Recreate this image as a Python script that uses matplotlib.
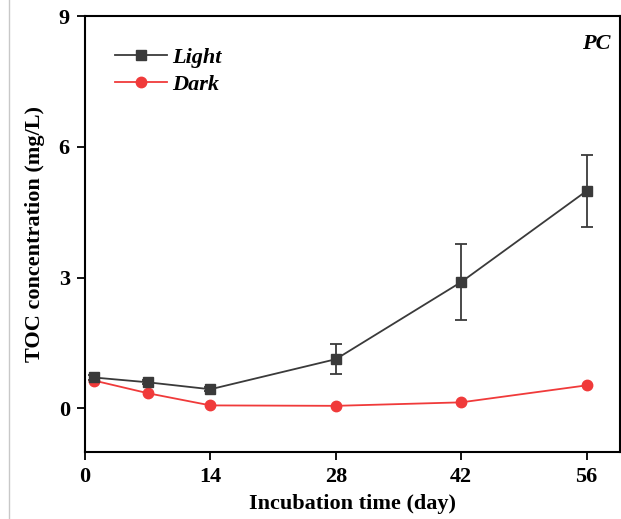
import matplotlib
matplotlib.use("Agg")
import matplotlib.pyplot as plt
from matplotlib.lines import Line2D

days_light = [1, 7, 14, 28, 42, 56]
toc_light = [0.71, 0.60, 0.44, 1.13, 2.90, 4.99]
err_light = [0.05, 0.05, 0.05, 0.35, 0.87, 0.82]

days_dark = [1, 7, 14, 28, 42, 56]
toc_dark = [0.64, 0.35, 0.07, 0.06, 0.14, 0.53]

xticks = [0, 14, 28, 42, 56]
yticks = [0, 3, 6, 9]

plt.rcParams['font.family'] = ['Liberation Serif', 'DejaVu Serif']
plt.rcParams['font.weight'] = 'bold'

c_light = '#3a3a3a'
c_dark = '#f03a3a'

fig = plt.figure(figsize=(6.21, 5.19), dpi=100)
ax = fig.add_axes([0.137, 0.129, 0.861, 0.840])

ax.errorbar(days_light, toc_light, yerr=err_light, color=c_light, lw=1.3,
            marker='s', ms=6.5, capsize=4, elinewidth=1.3, capthick=1.3)
ax.plot(days_dark, toc_dark, color=c_dark, lw=1.3, marker='o', ms=7.5)

ax.set_xlim(0, 59.7)
ax.set_ylim(-1, 9)
ax.set_xticks(xticks)
ax.set_yticks(yticks)
ax.tick_params(direction='out', length=6, width=1.3, labelsize=16, pad=5)
for s in ax.spines.values():
    s.set_linewidth(1.5)

ax.set_xlabel('Incubation time (day)', fontsize=16, fontweight='bold', labelpad=5)
ax.set_ylabel('TOC concentration (mg/L)', fontsize=16, fontweight='bold', labelpad=10)

ax.text(0.983, 0.937, 'PC', transform=ax.transAxes, ha='right', va='center',
        fontsize=16, fontweight='bold', fontstyle='italic')

handles = [Line2D([], [], color=c_light, lw=1.3, marker='s', ms=6.5),
           Line2D([], [], color=c_dark, lw=1.3, marker='o', ms=7.5)]
ax.legend(handles, ['Light', 'Dark'], loc='upper left', bbox_to_anchor=(0.056, 0.928),
          frameon=False, prop={'size': 16, 'weight': 'bold', 'style': 'italic'},
          handlelength=2.35, handletextpad=0.23, labelspacing=0.3,
          borderpad=0, borderaxespad=0)

# faint page border at left edge of the screenshot
fig.add_artist(Line2D([0.014, 0.014], [0, 1], transform=fig.transFigure, color='#c8c8c8', lw=1))

fig.savefig('out.png', dpi=100)
